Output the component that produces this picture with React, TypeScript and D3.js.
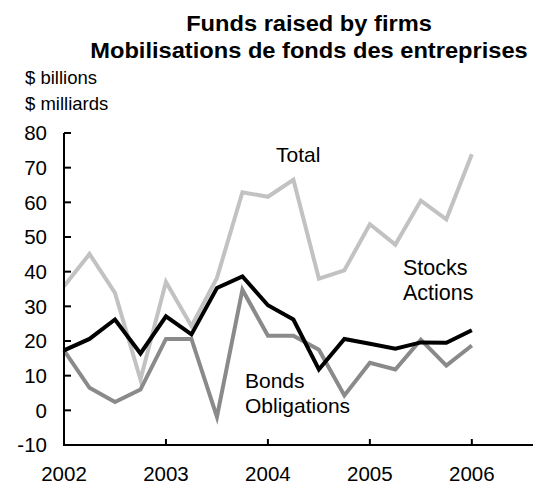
import React from "react";
import * as d3 from "d3";

const quarters = [
  2002.0, 2002.25, 2002.5, 2002.75, 2003.0, 2003.25, 2003.5, 2003.75, 2004.0,
  2004.25, 2004.5, 2004.75, 2005.0, 2005.25, 2005.5, 2005.75, 2006.0,
];
const totalValues = [35.8, 45.1, 33.9, 8.9, 37.0, 24.3, 38.2, 62.9, 61.6, 66.5, 38.0, 40.4, 53.7, 47.8, 60.5, 55.1, 73.9];
const bondValues = [17.3, 6.5, 2.4, 6.0, 20.6, 20.6, -1.9, 34.8, 21.5, 21.5, 17.5, 4.3, 13.7, 11.8, 20.4, 12.9, 18.7];
const stockValues = [17.3, 20.6, 26.2, 16.4, 27.1, 21.9, 35.3, 38.6, 30.3, 26.2, 11.8, 20.6, 19.2, 17.8, 19.6, 19.5, 23.1];
const yTicks = [-10, 0, 10, 20, 30, 40, 50, 60, 70, 80];
const xTicks = [2002, 2003, 2004, 2005, 2006];
const titleLines = ["Funds raised by firms", "Mobilisations de fonds des entreprises"];
const unitLines = ["$ billions", "$ milliards"];

const W = 535;
const H = 484;
const FONT = "'Liberation Sans', Arial, Helvetica, sans-serif";

export default function App() {
  const x = d3.scaleLinear().domain([2002, 2006.6]).range([64, 533]);
  const y = d3.scaleLinear().domain([-10, 80]).range([445, 133]);
  const mk = (vals: number[]) =>
    d3
      .line<number>()
      .x((_, i) => x(quarters[i]))
      .y((v) => y(v))(vals) || "";

  const series = [
    { vals: totalValues, color: "#c2c2c2" },
    { vals: bondValues, color: "#8a8a8a" },
    { vals: stockValues, color: "#000000" },
  ];

  const x0 = x(2002);
  const yBottom = y(-10);

  return (
    <svg
      width={W}
      height={H}
      style={{ position: "absolute", left: 0, top: 0, background: "#fff" }}
      fontFamily={FONT}
    >
      <rect width={W} height={H} fill="#fff" />
      {titleLines.map((t, i) => (
        <text
          key={t}
          transform={`translate(309,${31 + i * 27}) scale(1.1,1)`}
          textAnchor="middle"
          fontWeight="bold"
          fontSize={21.5}
          fill="#000"
        >
          {t}
        </text>
      ))}
      {unitLines.map((t, i) => (
        <text key={t} x={25} y={84 + i * 26} fontSize={18.5} fill="#000">
          {t}
        </text>
      ))}
      {series.map((s, i) => (
        <path
          key={i}
          d={mk(s.vals)}
          fill="none"
          stroke={s.color}
          strokeWidth={4}
          strokeLinejoin="miter"
        />
      ))}
      {/* y axis */}
      <line x1={x0} x2={x0} y1={y(80)} y2={yBottom} stroke="#000" strokeWidth={2} />
      {yTicks.map((t) => (
        <g key={t}>
          <line x1={x0} x2={x0 + 7} y1={y(t)} y2={y(t)} stroke="#000" strokeWidth={2} />
          <text
            x={47}
            y={y(t)}
            dy="0.35em"
            textAnchor="end"
            fontSize={20.5}
            fill="#000"
          >
            {t}
          </text>
        </g>
      ))}
      {/* x axis */}
      <line x1={x0 - 1} x2={533} y1={yBottom} y2={yBottom} stroke="#000" strokeWidth={2} />
      {xTicks.map((t) => (
        <g key={t}>
          <line x1={x(t)} x2={x(t)} y1={yBottom} y2={yBottom - 6} stroke="#000" strokeWidth={2} />
          <text x={x(t)} y={481} textAnchor="middle" fontSize={20.5} fill="#000">
            {t}
          </text>
        </g>
      ))}
      <text x={276} y={162} fontSize={21} fill="#000">Total</text>
      <text x={403} y={275} fontSize={21.5} fill="#000">Stocks</text>
      <text x={403} y={300} fontSize={21.5} fill="#000">Actions</text>
      <text x={245} y={388} fontSize={21} fill="#000">Bonds</text>
      <text x={245} y={413} fontSize={21} fill="#000">Obligations</text>
    </svg>
  );
}
